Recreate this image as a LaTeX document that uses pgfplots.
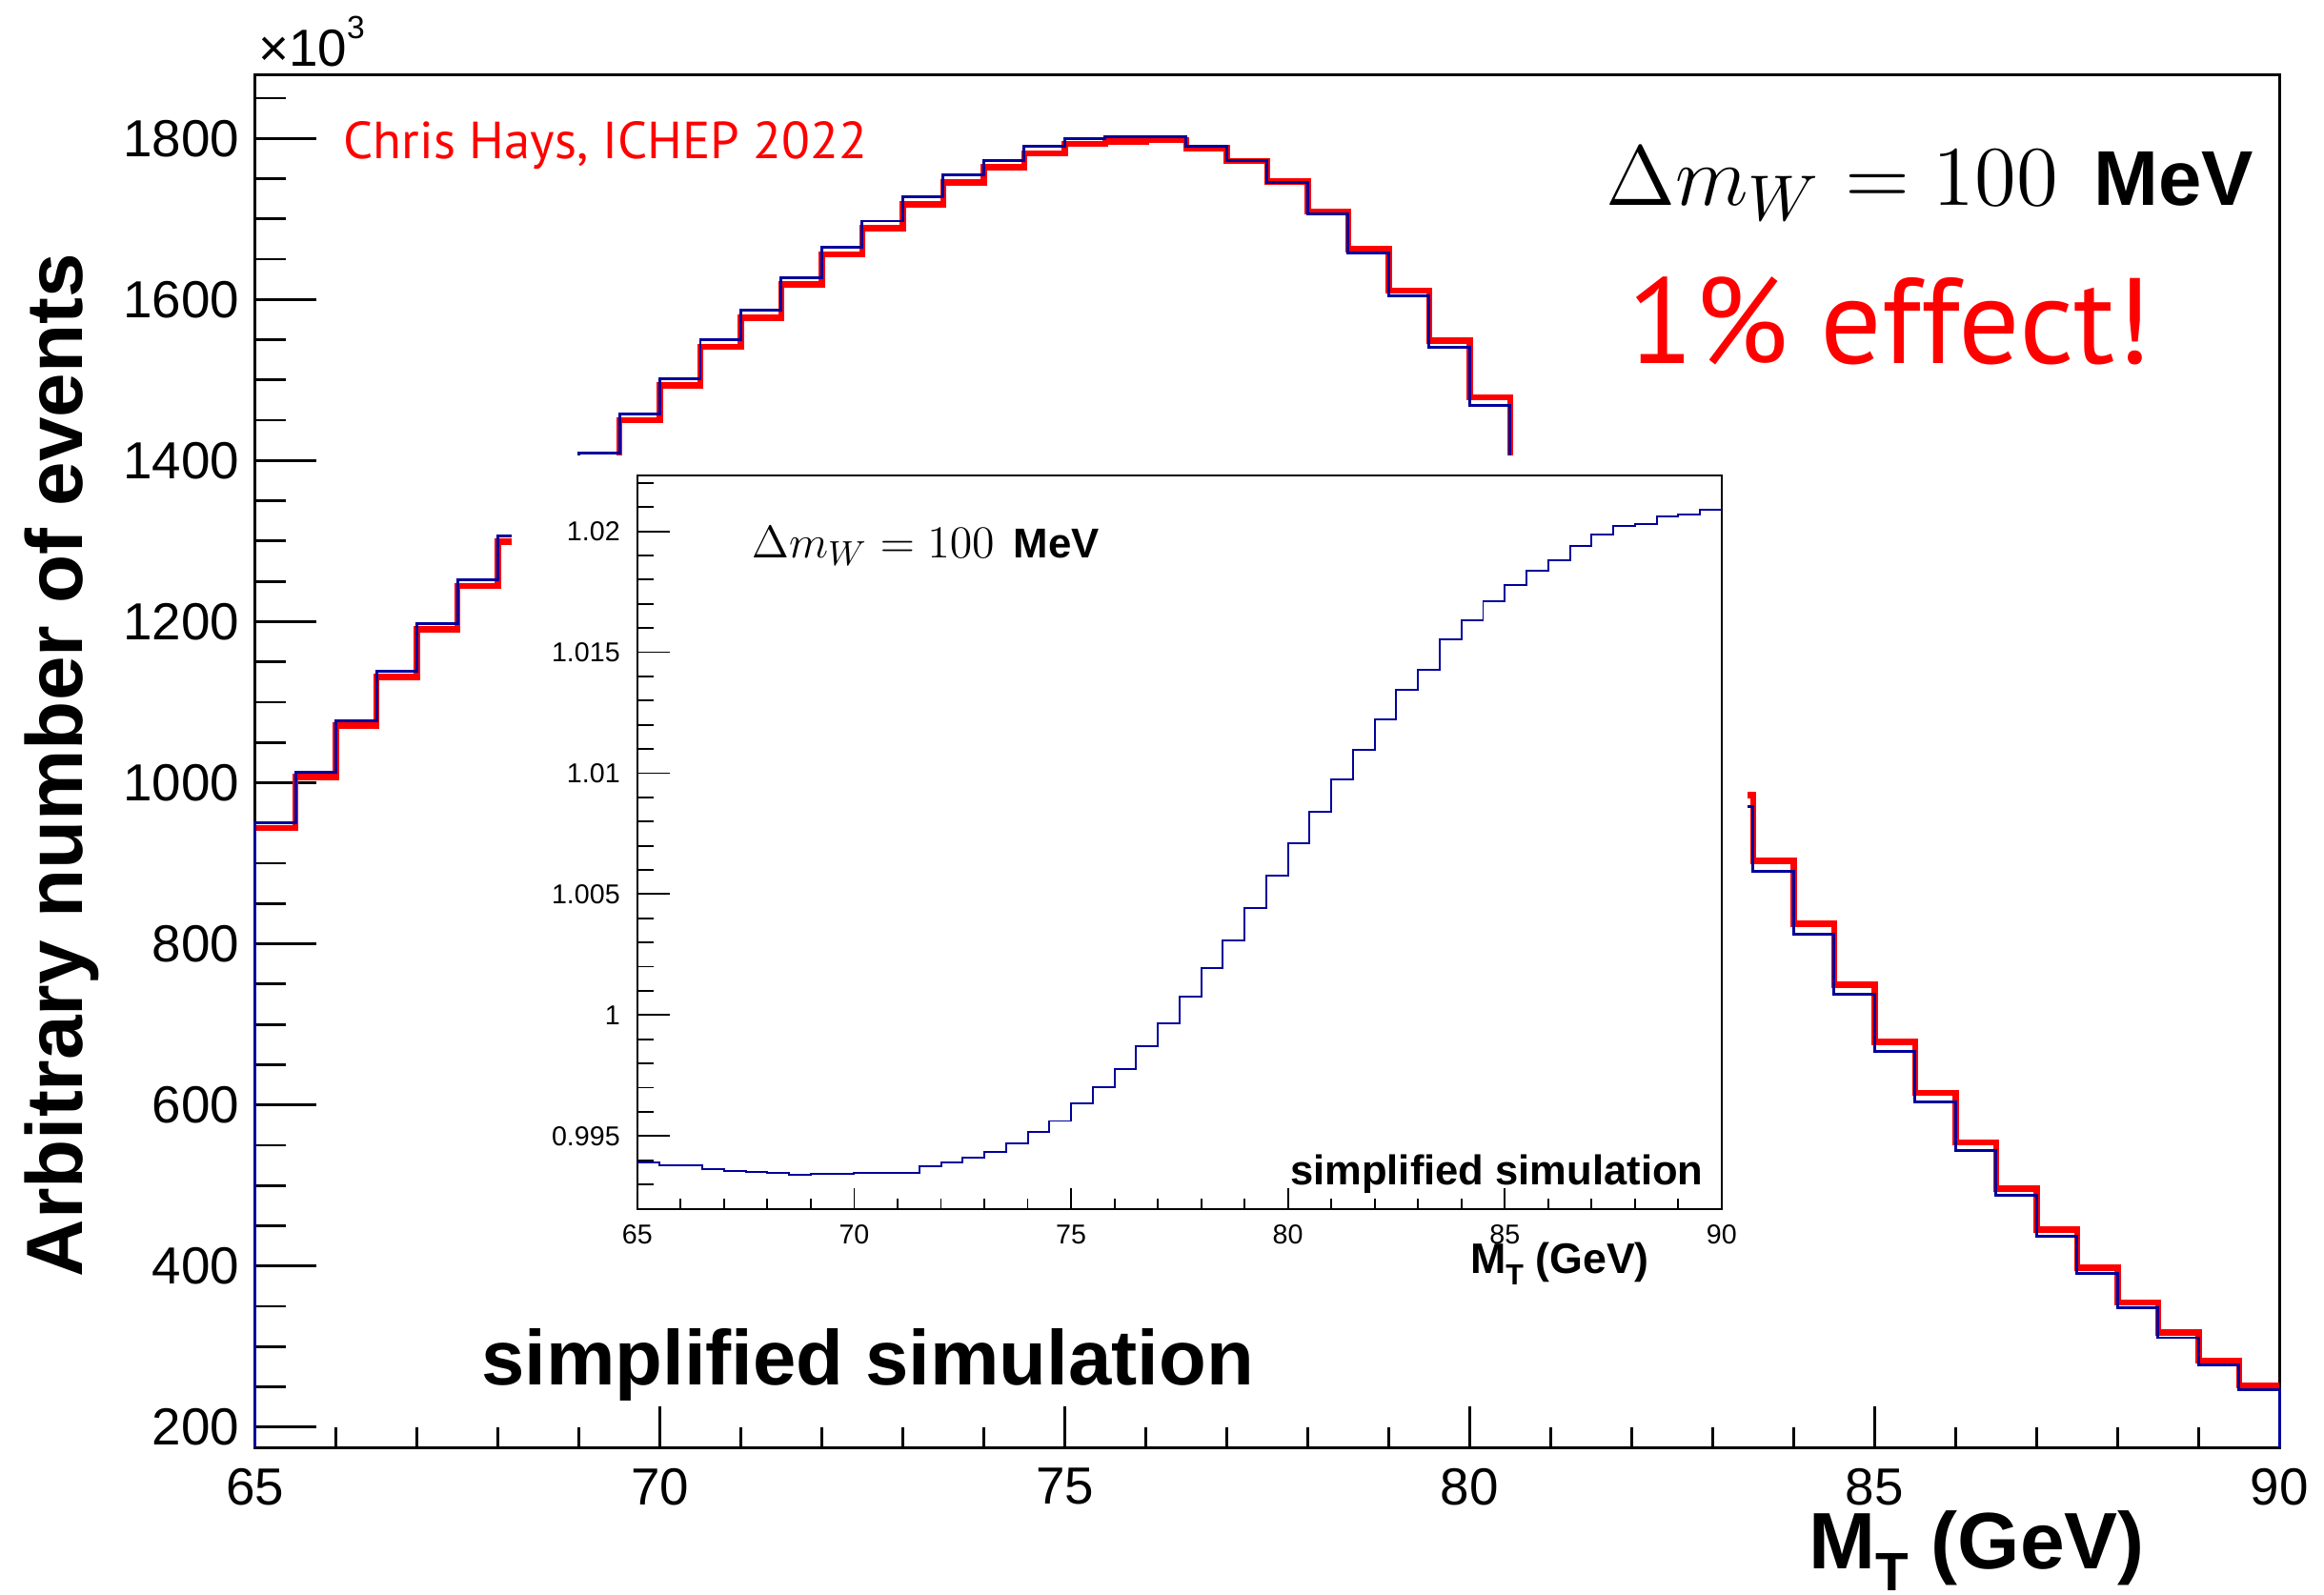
\documentclass[border=0pt]{standalone}
\usepackage[no-math]{fontspec}
\setmainfont{Liberation Sans}
\newfontfamily\myriad{PT Sans}
\usepackage{pgfplots}
\pgfplotsset{compat=1.18}
\definecolor{hblue}{RGB}{0,0,155}
\definecolor{hred}{RGB}{255,0,0}
\newcommand{\fs}[1]{\fontsize{#1}{#1}\selectfont}

\begin{document}
\begin{tikzpicture}
\path[use as bounding box] (0bp,0bp) rectangle (392bp,269bp);
\begin{axis}[
  at={(43bp,24.8bp)}, anchor=south west,
  scale only axis, width=341.5bp, height=231.6bp,
  xmin=65, xmax=90, ymin=174.5, ymax=1879,
  clip=false,
  axis line style={line width=0.45bp},
  tick pos=left, tick align=inside,
  xtick={65,70,...,90},
  minor xtick={66,67,68,69,71,72,73,74,76,77,78,79,81,82,83,84,86,87,88,89},
  ytick={200,400,600,800,1000,1200,1400,1600,1800},
  minor ytick={250,300,350,450,500,550,650,700,750,850,900,950,1050,1100,1150,1250,1300,1350,1450,1500,1550,1650,1700,1750,1850},
  xtick style={line width=0.45bp, black, /pgfplots/major tick length=6.9bp, /pgfplots/minor tick length=3.5bp},
  ytick style={line width=0.45bp, black, /pgfplots/major tick length=10.3bp, /pgfplots/minor tick length=5.2bp},
  scaled ticks=false,
  /pgf/number format/assume math mode=true,
  /pgf/number format/1000 sep={},
  ticklabel style={font=\fs{8.8bp}},
  yticklabel style={xshift=0.9bp},
]
\addplot[const plot, draw=hred, line width=1.05bp] coordinates {
(65,944) (65.5,1007) (66,1071) (66.5,1131) (67,1190.5) (67.5,1244.5) (68,1299.5) (68.5,1350) (69,1400.4) (69.5,1450) (70,1493) (70.5,1541) (71,1577.5) (71.5,1618.5) (72,1656) (72.5,1688.5) (73,1717.7) (73.5,1745.2) (74,1764) (74.5,1781.3) (75,1793) (75.5,1796) (76,1797.8) (76.5,1787.8) (77,1771.7) (77.5,1746.5) (78,1709.4) (78.5,1662.6) (79,1611) (79.5,1549.1) (80,1478.3) (80.5,1398) (81,1322.8) (81.5,1238.4) (82,1153.9) (82.5,1070.2) (83,984.5) (83.5,903.3) (84,824.7) (84.5,749.5) (85,678.1) (85.5,615) (86,553.4) (86.5,495.8) (87,445) (87.5,397.8) (88,355) (88.5,317.3) (89,282.4) (89.5,252) (90,252)
};
\addplot[const plot, draw=hblue, line width=0.48bp] coordinates {
(65,174.5) (65,950) (65.5,1013) (66,1076.9) (66.5,1138) (67,1197.8) (67.5,1252) (68,1306.4) (68.5,1359) (69,1409.6) (69.5,1457.8) (70,1501.9) (70.5,1549.5) (71,1586.2) (71.5,1626.9) (72,1664.2) (72.5,1697.3) (73,1727.5) (73.5,1754.3) (74,1772.8) (74.5,1789.7) (75,1800) (75.5,1801.5) (76,1802.3) (76.5,1790.5) (77,1772) (77.5,1745.3) (78,1705.7) (78.5,1657.6) (79,1604.3) (79.5,1540.1) (80,1467.9) (80.5,1386) (81,1310) (81.5,1225) (82,1140) (82.5,1056) (83,970.9) (83.5,890) (84,811.8) (84.5,737.6) (85,666.6) (85.5,604.1) (86,543.3) (86.5,487.5) (87,436.7) (87.5,390.3) (88,348.4) (88.5,311) (89,277) (89.5,246.8) (90,246.8) (90,174.5)
};
\end{axis}

% main annotations
\node[anchor=base west, inner sep=0pt, font=\fs{8.8bp}] at (43.4bp,257.75bp) {×10\raisebox{4.8bp}{\fs{5.4bp}3}};
\node[anchor=base west, inner sep=0pt, text=hred, font=\myriad\fs{8.8bp}] at (57.75bp,242.2bp) {Chris Hays, ICHEP 2022};
\node[anchor=base west, inner sep=0pt, font=\fs{15.5bp}] at (270.7bp,234.3bp) {$\Delta m_W = 100$\hspace{6bp}{\bfseries\fs{13.1bp}MeV}};
\node[anchor=base west, inner sep=0pt, text=hred, font=\myriad\fs{20.5bp}] at (274.4bp,207.65bp) {1\% effect!};
\node[anchor=base west, inner sep=0pt, font=\bfseries\fs{13.1bp}] at (81bp,35.4bp) {simplified simulation};
\node[rotate=90, anchor=base, inner sep=0pt, font=\bfseries\fs{13.45bp}] at (13.9bp,139.9bp) {Arbitrary number of events};
\node[anchor=base west, inner sep=0pt, font=\bfseries\fs{13.5bp}] at (305bp,4.35bp) {M\raisebox{-3.7bp}{\fs{9.1bp}T} (GeV)};

% inset pad
\fill[white] (86.25bp,51.5bp) rectangle (294.7bp,192.2bp);

\begin{axis}[
  at={(107.5bp,65.1bp)}, anchor=south west,
  scale only axis, width=182.9bp, height=123.7bp,
  xmin=65, xmax=90, ymin=0.99199, ymax=1.02231,
  axis line style={line width=0.3bp},
  tick pos=left, tick align=inside,
  xtick={65,70,...,90},
  minor xtick={66,67,68,69,71,72,73,74,76,77,78,79,81,82,83,84,86,87,88,89},
  ytick={0.995,1,1.005,1.01,1.015,1.02},
  yticklabels={0.995,1,1.005,1.01,1.015,1.02},
  minor ytick={0.993,0.994,0.996,0.997,0.998,0.999,1.001,1.002,1.003,1.004,1.006,1.007,1.008,1.009,1.011,1.012,1.013,1.014,1.016,1.017,1.018,1.019,1.021,1.022},
  xtick style={line width=0.3bp, black, /pgfplots/major tick length=3.5bp, /pgfplots/minor tick length=1.7bp},
  ytick style={line width=0.3bp, black, /pgfplots/major tick length=5.5bp, /pgfplots/minor tick length=2.8bp},
  scaled ticks=false,
  /pgf/number format/assume math mode=true,
  ticklabel style={font=\fs{4.6bp}},
  yticklabel style={xshift=0.6bp},
  xticklabel style={yshift=0.8bp},
]
\addplot[const plot, draw=hblue, line width=0.32bp] coordinates {
(65,0.99389) (65.5,0.99379) (66,0.99379) (66.5,0.99362) (67,0.99357) (67.5,0.99351) (68,0.99349) (68.5,0.99338) (69,0.99345) (69.5,0.99345) (70,0.99349) (70.5,0.99347) (71,0.99349) (71.5,0.99374) (72,0.99389) (72.5,0.99409) (73,0.99434) (73.5,0.99471) (74,0.99518) (74.5,0.99562) (75,0.99633) (75.5,0.99703) (76,0.99776) (76.5,0.99870) (77,0.99964) (77.5,1.00077) (78,1.00196) (78.5,1.00310) (79,1.00442) (79.5,1.00576) (80,1.00709) (80.5,1.00841) (81,1.00976) (81.5,1.01097) (82,1.01221) (82.5,1.01343) (83,1.01426) (83.5,1.01552) (84,1.01633) (84.5,1.01712) (85,1.01776) (85.5,1.01836) (86,1.01881) (86.5,1.01939) (87,1.01986) (87.5,1.02024) (88,1.02031) (88.5,1.02062) (89,1.02069) (89.5,1.02090) (90,1.02090)
};
\end{axis}

% inset annotations
\node[anchor=base west, inner sep=0pt] at (126.6bp,174.9bp) {\scalebox{0.537}{\fs{15.5bp}$\Delta m_W = 100$\hspace{6bp}{\bfseries\fs{13.1bp}MeV}}};
\node[anchor=base west, inner sep=0pt, font=\bfseries\fs{7bp}] at (217.45bp,69.2bp) {simplified simulation};
\node[anchor=base west, inner sep=0pt, font=\bfseries\fs{7.2bp}] at (247.8bp,54.2bp) {M\raisebox{-1.9bp}{\fs{4.9bp}T} (GeV)};
\end{tikzpicture}
\end{document}
